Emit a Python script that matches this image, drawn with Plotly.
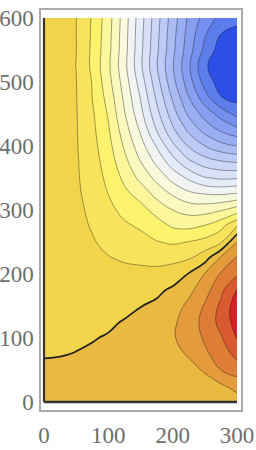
import plotly.graph_objects as go

# grid coordinates
x_grid = [0, 25, 50, 75, 100, 125, 150, 175, 200, 225, 250, 275, 300]
y_grid = [0, 25, 50, 75, 100, 125, 150, 175, 200, 225, 250, 275, 300,
          325, 350, 375, 400, 425, 450, 475, 500, 525, 550, 575, 600]

# field values, one row per y
z_y000 = [0.50, 0.50, 0.50, 0.50, 0.50, 0.50, 0.50, 0.52, 0.55, 0.60, 0.60, 0.55, 0.55]
z_y025 = [0.32, 0.33, 0.33, 0.36, 0.40, 0.43, 0.47, 0.53, 0.60, 0.70, 0.80, 0.85, 1.35]
z_y050 = [0.13, 0.15, 0.17, 0.22, 0.30, 0.38, 0.48, 0.60, 0.70, 0.85, 1.05, 2.00, 2.48]
z_y075 = [-0.05, -0.03, 0.02, 0.10, 0.20, 0.32, 0.45, 0.62, 0.85, 1.05, 1.80, 2.50, 3.31]
z_y100 = [-0.12, -0.15, -0.10, -0.04, 0.06, 0.22, 0.40, 0.62, 0.93, 1.30, 2.15, 2.90, 4.05]
z_y125 = [-0.17, -0.22, -0.22, -0.19, -0.12, 0.05, 0.22, 0.45, 0.85, 1.40, 2.35, 3.30, 4.45]
z_y150 = [-0.21, -0.30, -0.33, -0.34, -0.33, -0.22, -0.02, 0.17, 0.50, 1.25, 2.10, 3.20, 4.55]
z_y175 = [-0.24, -0.35, -0.42, -0.49, -0.54, -0.50, -0.40, -0.19, 0.15, 0.73, 1.60, 2.75, 4.10]
z_y200 = [-0.27, -0.40, -0.50, -0.64, -0.75, -0.78, -0.77, -0.72, -0.48, 0.05, 1.04, 2.10, 2.85]
z_y225 = [-0.29, -0.44, -0.60, -0.79, -0.96, -1.09, -1.19, -1.31, -1.29, -1.10, -0.43, 1.15, 2.10]
z_y250 = [-0.31, -0.48, -0.73, -0.93, -1.21, -1.46, -1.65, -1.95, -2.12, -1.97, -1.68, -1.14, 1.00]
z_y275 = [-0.33, -0.52, -0.77, -1.06, -1.48, -1.84, -2.13, -2.58, -3.11, -3.22, -2.94, -2.30, -1.00]
z_y300 = [-0.35, -0.55, -0.81, -1.17, -1.74, -2.27, -2.66, -3.33, -4.00, -4.37, -4.38, -4.08, -3.50]
z_y325 = [-0.36, -0.57, -0.84, -1.33, -2.01, -2.75, -3.36, -4.33, -5.11, -5.76, -6.00, -6.08, -5.90]
z_y350 = [-0.38, -0.59, -0.87, -1.48, -2.23, -3.22, -4.26, -5.28, -6.35, -7.17, -7.92, -8.14, -8.08]
z_y375 = [-0.39, -0.61, -0.89, -1.58, -2.44, -3.69, -4.97, -6.23, -7.53, -8.79, -9.50, -9.87, -10.08]
z_y400 = [-0.40, -0.63, -0.92, -1.67, -2.66, -4.13, -5.57, -7.08, -8.76, -10.09, -11.00, -11.67, -12.00]
z_y425 = [-0.41, -0.64, -0.93, -1.76, -2.88, -4.53, -6.15, -8.03, -9.80, -11.22, -12.35, -13.15, -13.73]
z_y450 = [-0.42, -0.66, -0.94, -1.85, -3.10, -4.92, -6.67, -8.65, -10.54, -12.20, -13.38, -14.40, -15.30]
z_y475 = [-0.43, -0.67, -0.96, -2.00, -3.35, -5.20, -7.05, -9.15, -11.12, -12.95, -14.56, -15.94, -16.30]
z_y500 = [-0.44, -0.69, -0.98, -2.05, -3.64, -5.46, -7.45, -9.58, -11.67, -13.54, -15.40, -16.50, -16.90]
z_y525 = [-0.45, -0.70, -1.01, -2.20, -3.80, -5.70, -7.80, -9.92, -11.92, -13.85, -15.86, -16.60, -17.20]
z_y550 = [-0.46, -0.71, -0.99, -2.17, -3.71, -5.62, -7.73, -9.80, -11.76, -13.57, -15.27, -16.50, -16.90]
z_y575 = [-0.47, -0.72, -0.99, -2.13, -3.65, -5.57, -7.67, -9.70, -11.65, -13.40, -14.90, -16.00, -16.30]
z_y600 = [-0.48, -0.73, -0.98, -2.10, -3.57, -5.50, -7.58, -9.60, -11.50, -13.17, -14.40, -15.30, -15.70]

z_rows = [z_y000, z_y025, z_y050, z_y075, z_y100, z_y125, z_y150, z_y175, z_y200,
          z_y225, z_y250, z_y275, z_y300, z_y325, z_y350, z_y375, z_y400, z_y425,
          z_y450, z_y475, z_y500, z_y525, z_y550, z_y575, z_y600]

# contour levels
level_start = -16
level_end = 4
level_step = 1

# tick labels
x_ticks = [0, 100, 200, 300]
y_ticks = [0, 100, 200, 300, 400, 500, 600]

# band colours, lowest band first (z < -16) ... highest (z > 4)
band_colors = [
    "#2c4fe8", "#5e7dec", "#7490ee", "#879ff0", "#99aef2", "#abbcf4",
    "#bccaf6", "#cbd6f8", "#d9e1f9", "#e6ebfa", "#f1f4f0", "#f9f9dc",
    "#fcf9bf", "#fcf79a", "#fcf36c", "#f9e35c", "#f2d44b", "#e9b942",
    "#e39b3b", "#de7e36", "#d95a31", "#d51f29",
]
nb = len(band_colors) - 1
colorscale = [[i / nb, c] for i, c in enumerate(band_colors)]

fig = go.Figure()
fig.add_trace(go.Contour(
    x=x_grid, y=y_grid, z=z_rows,
    contours=dict(start=level_start, end=level_end, size=level_step, coloring="fill"),
    colorscale=colorscale, showscale=False,
    line=dict(color="rgba(20,20,20,0.5)", width=0.8, smoothing=1.3),
    hoverinfo="skip",
))
fig.add_trace(go.Contour(
    x=x_grid, y=y_grid, z=z_rows,
    contours=dict(start=0, end=0, size=1, coloring="none"),
    showscale=False,
    line=dict(color="#222222", width=1.7, smoothing=1.3),
    hoverinfo="skip",
))

# axes drawn along x=0 and y=0
fig.add_shape(type="line", x0=0, y0=0, x1=0, y1=600, xref="x", yref="y",
              line=dict(color="#333333", width=2.2), layer="above")
fig.add_shape(type="line", x0=0, y0=0, x1=300, y1=0, xref="x", yref="y",
              line=dict(color="#333333", width=2.6), layer="above")

tickfont = dict(family="Liberation Serif", size=23, color="#6e6e6e")
fig.update_layout(
    width=256, height=450,
    margin=dict(l=41, r=15, t=10, b=40, autoexpand=False),
    paper_bgcolor="white", plot_bgcolor="white",
    showlegend=False,
    xaxis=dict(range=[-4.66, 306.2], tickvals=x_ticks, ticktext=[str(v) for v in x_ticks],
               showgrid=False, zeroline=False, showline=True, mirror=True,
               linecolor="#aaaaaa", linewidth=1.5, ticks="", tickfont=tickfont,
               ticklabelstandoff=4, automargin=False),
    yaxis=dict(range=[-12.5, 612.5], tickvals=y_ticks, ticktext=[str(v) for v in y_ticks],
               showgrid=False, zeroline=False, showline=True, mirror=True,
               linecolor="#aaaaaa", linewidth=1.5, ticks="", tickfont=tickfont,
               ticklabelstandoff=1, automargin=False),
)

fig.write_html("out.html",
               config={"displayModeBar": False},
               post_script="document.body.style.margin='0';document.body.style.overflow='hidden';")
